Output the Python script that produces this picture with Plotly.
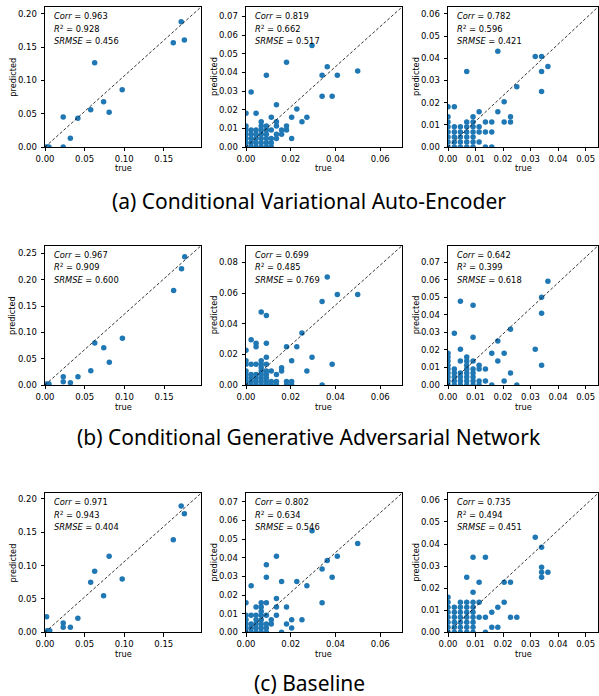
import plotly.graph_objects as go

# ---------------- data (true vs predicted) ----------------
# Row (a): Conditional Variational Auto-Encoder
a1_true = [0.002, 0.005, 0.023, 0.023, 0.032, 0.0415, 0.0577, 0.0627, 0.074, 0.081, 0.0975, 0.162, 0.172, 0.176]
a1_pred = [0.0, 0.0, 0.045, 0.0, 0.013, 0.043, 0.056, 0.1265, 0.068, 0.052, 0.086, 0.1565, 0.188, 0.1605]

a2_true = [0, 0, 0, 0, 0, 0, 0,
           0.0023, 0.0023, 0.0023, 0.0023, 0.0023, 0.0023,
           0.0045, 0.0045, 0.0045, 0.0045, 0.0045, 0.0045,
           0.0068, 0.0068, 0.0068, 0.0068, 0.0068, 0.0068, 0.0068,
           0.0091, 0.0091, 0.0091, 0.0091, 0.0091, 0.0091, 0.0091,
           0.0113, 0.0113, 0.0113, 0.0113, 0.0113,
           0.0136, 0.0136, 0.0136, 0.0136, 0.0136,
           0.0159, 0.0159,
           0.0181, 0.0181, 0.0181,
           0.0204, 0.0204,
           0.0227, 0.025, 0.0272, 0.0295, 0.034, 0.034, 0.0363, 0.0385, 0.0408, 0.0499]
a2_pred = [0, 0.0023, 0.0045, 0.0068, 0.0091, 0.0113, 0.0181,
           0, 0.0023, 0.0045, 0.0068, 0.0091, 0.0295,
           0, 0.0023, 0.0045, 0.0068, 0.0091, 0.0181,
           0, 0.0023, 0.0045, 0.0068, 0.0091, 0.0113, 0.0136,
           0, 0.0023, 0.0045, 0.0068, 0.0091, 0.0113, 0.0385,
           0, 0.0023, 0.0045, 0.0091, 0.0159,
           0.0045, 0.0068, 0.0113, 0.0136, 0.0227,
           0.0068, 0.0091,
           0.0091, 0.0113, 0.0454,
           0.0045, 0.0159,
           0.0204, 0.0136, 0.0159, 0.0545, 0.0385, 0.0272, 0.0431, 0.0272, 0.0385, 0.0408]

a3_true = [0, 0, 0, 0, 0, 0, 0, 0,
           0.0023, 0.0023, 0.0023, 0.0023, 0.0023, 0.0023,
           0.0045, 0.0045, 0.0045, 0.0045, 0.0045,
           0.0068, 0.0068, 0.0068, 0.0068, 0.0068, 0.0068, 0.0068,
           0.0091, 0.0091, 0.0091, 0.0091, 0.0091, 0.0091, 0.0091,
           0.0113, 0.0113, 0.0113, 0.0113,
           0.0136, 0.0136, 0.0136,
           0.0159, 0.0159, 0.0159,
           0.0181, 0.0181,
           0.0204, 0.0204,
           0.0227, 0.0227,
           0.025, 0.0317, 0.034, 0.034, 0.034, 0.0363]
a3_pred = [0, 0.0023, 0.0045, 0.0068, 0.0091, 0.0113, 0.0136, 0.0181,
           0, 0.0023, 0.0045, 0.0068, 0.0091, 0.0181,
           0, 0.0023, 0.0045, 0.0068, 0.0091,
           0, 0.0023, 0.0045, 0.0068, 0.0091, 0.0113, 0.034,
           0, 0.0023, 0.0045, 0.0068, 0.0091, 0.0113, 0.0136,
           0.0023, 0.0068, 0.0091, 0.0159,
           0, 0.0068, 0.0113,
           0, 0.0068, 0.0113,
           0.0159, 0.0431,
           0.0113, 0.0204,
           0.0113, 0.0136,
           0.0272, 0.0408, 0.0408, 0.034, 0.025, 0.0363]

# Row (b): Conditional Generative Adversarial Network
b1_true = [0.002, 0.005, 0.023, 0.023, 0.032, 0.0415, 0.0577, 0.0627, 0.074, 0.081, 0.0975, 0.162, 0.172, 0.176]
b1_pred = [0.002, 0.002, 0.0158, 0.0063, 0.0044, 0.0158, 0.0272, 0.0797, 0.0709, 0.043, 0.0886, 0.1797, 0.221, 0.2437]

b2_true = [0, 0, 0, 0, 0, 0, 0, 0,
           0.0023, 0.0023, 0.0023, 0.0023, 0.0023, 0.0023,
           0.0045, 0.0045, 0.0045, 0.0045, 0.0045, 0.0045, 0.0045,
           0.0068, 0.0068, 0.0068, 0.0068, 0.0068, 0.0068, 0.0068, 0.0068, 0.0068,
           0.0091, 0.0091, 0.0091, 0.0091, 0.0091, 0.0091, 0.0091, 0.0091, 0.0091,
           0.0113, 0.0113, 0.0113,
           0.0136, 0.0136, 0.0136,
           0.0159, 0.0159,
           0.0181, 0.0181, 0.0181,
           0.0204, 0.0204, 0.0204,
           0.0227, 0.025, 0.0272, 0.0295, 0.034, 0.034, 0.0363, 0.0385, 0.0408, 0.0499]
b2_pred = [0, 0.0023, 0.0045, 0.0068, 0.0091, 0.0136, 0.0159, 0.0227,
           0, 0.0023, 0.0045, 0.0068, 0.0136, 0.0295,
           0, 0.0023, 0.0045, 0.0068, 0.0136, 0.025, 0.0272,
           0, 0.0023, 0.0045, 0.0068, 0.0091, 0.0113, 0.0136, 0.0159, 0.0477,
           0, 0.0023, 0.0045, 0.0068, 0.0091, 0.0136, 0.0181, 0.0272, 0.0454,
           0, 0.0023, 0.0091,
           0, 0.0023, 0.0068,
           0.0091, 0.0113,
           0, 0.0023, 0.025,
           0, 0.0023, 0.0159,
           0.025, 0.034, 0.0091, 0.0181, 0.0545, 0, 0.0704, 0.0136, 0.059, 0.059]

b3_true = [0, 0, 0, 0, 0, 0, 0, 0, 0,
           0.0023, 0.0023, 0.0023, 0.0023, 0.0023, 0.0023,
           0.0045, 0.0045, 0.0045, 0.0045, 0.0045, 0.0045, 0.0045,
           0.0068, 0.0068, 0.0068, 0.0068, 0.0068, 0.0068, 0.0068, 0.0068,
           0.0091, 0.0091, 0.0091, 0.0091, 0.0091, 0.0091, 0.0091, 0.0091,
           0.0113, 0.0113, 0.0113, 0.0113,
           0.0136, 0.0136,
           0.0159, 0.0159,
           0.0181, 0.0181,
           0.0204, 0.0204,
           0.0227, 0.0227,
           0.025, 0.0317, 0.034, 0.034, 0.034, 0.0363]
b3_pred = [0, 0.0023, 0.0045, 0.0068, 0.0091, 0.0113, 0.0136, 0.0159, 0.0181,
           0, 0.0023, 0.0045, 0.0068, 0.0091, 0.0295,
           0, 0.0023, 0.0045, 0.0068, 0.0136, 0.0204, 0.0477,
           0, 0.0023, 0.0045, 0.0068, 0.0091, 0.0113, 0.0136, 0.0159,
           0, 0.0023, 0.0045, 0.0068, 0.0091, 0.0136, 0.0272, 0.0454,
           0, 0.0023, 0.0091, 0.0113,
           0.0023, 0.0091,
           0, 0.0181,
           0.0136, 0.025,
           0.0023, 0.0181,
           0.0068, 0.0318,
           0, 0.0204, 0.0499, 0.0408, 0.0113, 0.059]

# Row (c): Baseline
c1_true = [0.002, 0.003, 0.006, 0.023, 0.023, 0.032, 0.0415, 0.0577, 0.0627, 0.074, 0.081, 0.0975, 0.162, 0.172, 0.176]
c1_pred = [0.0235, 0.0025, 0.0025, 0.014, 0.0075, 0.0075, 0.021, 0.075, 0.0915, 0.055, 0.114, 0.080, 0.139, 0.1895, 0.178]

c2_true = [0, 0, 0, 0, 0, 0,
           0.0023, 0.0023, 0.0023, 0.0023, 0.0023,
           0.0045, 0.0045, 0.0045, 0.0045, 0.0045, 0.0045,
           0.0068, 0.0068, 0.0068, 0.0068, 0.0068, 0.0068, 0.0068, 0.0068,
           0.0091, 0.0091, 0.0091, 0.0091, 0.0091, 0.0091, 0.0091,
           0.0113, 0.0113,
           0.0136, 0.0136, 0.0136, 0.0136,
           0.0159, 0.0159,
           0.0181, 0.0181,
           0.0204, 0.0204,
           0.0227, 0.025, 0.0272, 0.0295, 0.034, 0.034, 0.0363, 0.0385, 0.0408, 0.0499]
c2_pred = [0, 0.0023, 0.0045, 0.0068, 0.0091, 0.0159,
           0, 0.0023, 0.0045, 0.0091, 0.025,
           0, 0.0023, 0.0045, 0.0068, 0.0091, 0.0136,
           0, 0.0023, 0.0045, 0.0068, 0.0091, 0.0113, 0.0136, 0.0159,
           0, 0.0023, 0.0045, 0.0091, 0.0159, 0.0295, 0.0363,
           0.0045, 0.0068,
           0.0091, 0.0136, 0.0181, 0.0408,
           0, 0.0272,
           0.0045, 0.0136,
           0.0023, 0.0068,
           0.0272, 0.0068, 0.025, 0.0545, 0.034, 0.0159, 0.0385, 0.0295, 0.0408, 0.0477]

c3_true = [0, 0, 0, 0, 0, 0, 0, 0,
           0.0023, 0.0023, 0.0023, 0.0023, 0.0023, 0.0023,
           0.0045, 0.0045, 0.0045, 0.0045, 0.0045, 0.0045, 0.0045,
           0.0068, 0.0068, 0.0068, 0.0068, 0.0068, 0.0068, 0.0068, 0.0068,
           0.0091, 0.0091, 0.0091, 0.0091, 0.0091, 0.0091, 0.0091, 0.0091, 0.0091,
           0.0113, 0.0113, 0.0113,
           0.0136, 0.0136, 0.0136,
           0.0159, 0.0159,
           0.0181, 0.0181,
           0.0204, 0.0204,
           0.0227, 0.0227,
           0.025, 0.0317, 0.034, 0.034, 0.034, 0.034, 0.0363]
c3_pred = [0, 0.0023, 0.0045, 0.0068, 0.0091, 0.0113, 0.0136, 0.0159,
           0, 0.0023, 0.0045, 0.0068, 0.0091, 0.0113,
           0, 0.0023, 0.0045, 0.0068, 0.0091, 0.0113, 0.0136,
           0, 0.0023, 0.0045, 0.0068, 0.0091, 0.0113, 0.0136, 0.025,
           0, 0.0023, 0.0045, 0.0068, 0.0091, 0.0113, 0.0136, 0.0181, 0.034,
           0.0068, 0.0136, 0.0227,
           0, 0.0068, 0.034,
           0.0023, 0.0091,
           0.0023, 0.0113,
           0.0136, 0.0227,
           0.0068, 0.0227,
           0.0068, 0.0431, 0.0385, 0.0295, 0.0272, 0.025, 0.0272]

corr_vals = ["0.963", "0.819", "0.782", "0.967", "0.699", "0.642", "0.971", "0.802", "0.735"]
r2_vals = ["0.928", "0.662", "0.596", "0.909", "0.485", "0.399", "0.943", "0.634", "0.494"]
srmse_vals = ["0.456", "0.517", "0.421", "0.600", "0.769", "0.618", "0.404", "0.546", "0.451"]

captions = ["(a) Conditional Variational Auto-Encoder",
            "(b) Conditional Generative Adversarial Network",
            "(c) Baseline"]

panel_data = [(a1_true, a1_pred), (a2_true, a2_pred), (a3_true, a3_pred),
              (b1_true, b1_pred), (b2_true, b2_pred), (b3_true, b3_pred),
              (c1_true, c1_pred), (c2_true, c2_pred), (c3_true, c3_pred)]

# axis limits and tick steps per panel (x_max, y_max, x_dtick, y_dtick)
axis_cfg = [(0.197, 0.21, 0.05, 0.05), (0.0697, 0.0751, 0.02, 0.01), (0.0545, 0.0631, 0.01, 0.01),
            (0.1965, 0.2646, 0.05, 0.05), (0.0697, 0.0909, 0.02, 0.02), (0.0545, 0.0793, 0.01, 0.01),
            (0.197, 0.2085, 0.05, 0.05), (0.0697, 0.0746, 0.02, 0.01), (0.0545, 0.063, 0.01, 0.01)]

# ---------------- layout geometry (pixels) ----------------
W, H = 599, 696
col_left = [45, 246, 448]
col_right = [201, 402, 598]
row_top = [7, 245.7, 493.3]
row_bottom = [147, 385, 632.3]
ylabel_x = [12.7, 214, 416]
xlabel_y = [168, 406.5, 653.5]
caption_y = [200.7, 437, 683]

BLUE = "#1f77b4"
tick_font = dict(family="DejaVu Sans", size=8.5, color="black")

fig = go.Figure()
layout = dict(width=W, height=H, margin=dict(l=0, r=0, t=0, b=0, autoexpand=False),
              paper_bgcolor="white", plot_bgcolor="white", showlegend=False)
annotations = []
shapes = []

for i, (xt, yp) in enumerate(panel_data):
    r, c = divmod(i, 3)
    n = i + 1
    xa = "xaxis" if n == 1 else f"xaxis{n}"
    ya = "yaxis" if n == 1 else f"yaxis{n}"
    xref = "x" if n == 1 else f"x{n}"
    yref = "y" if n == 1 else f"y{n}"
    xmax, ymax, xdt, ydt = axis_cfg[i]
    dom_x = [col_left[c] / W, col_right[c] / W]
    dom_y = [1 - row_bottom[r] / H, 1 - row_top[r] / H]
    common = dict(showline=True, linecolor="black", linewidth=0.9, mirror=True,
                  ticks="outside", ticklen=3.5, tickwidth=0.8, tickcolor="black",
                  showgrid=False, zeroline=False, tickfont=tick_font, tickformat=".2f",
                  tick0=0, fixedrange=True, automargin=False)
    layout[xa] = dict(domain=dom_x, range=[0, xmax], dtick=xdt, anchor=yref, **common)
    layout[ya] = dict(domain=dom_y, range=[0, ymax], dtick=ydt, anchor=xref,
                      ticklabelstandoff=2, **common)

    fig.add_trace(go.Scatter(x=xt, y=yp, mode="markers", xaxis=xref, yaxis=yref,
                             marker=dict(size=5.5, color=BLUE, line=dict(width=0)),
                             cliponaxis=True, hoverinfo="skip"))

    shapes.append(dict(type="line", xref=f"{xref} domain", yref=f"{yref} domain",
                       x0=0, y0=0, x1=1, y1=1, layer="above",
                       line=dict(color="black", width=0.8, dash="3px,2px")))

    stats = [f"<i>Corr</i> = {corr_vals[i]}",
             f"<i>R</i><sup>2</sup> = {r2_vals[i]}",
             f"<i>SRMSE</i> = {srmse_vals[i]}"]
    for k, txt in enumerate(stats):
        annotations.append(dict(text=txt, xref=f"{xref} domain", yref=f"{yref} domain",
                                x=0.048, y=1 - (9 + 12.6 * k) / 140, xanchor="left", yanchor="middle",
                                showarrow=False,
                                font=dict(family="DejaVu Sans", size=8.3, color="black")))

    # axis labels
    annotations.append(dict(text="predicted", xref="paper", yref="paper",
                            x=ylabel_x[c] / W, y=1 - (row_top[r] + row_bottom[r]) / 2 / H,
                            xanchor="center", yanchor="middle", textangle=-90, showarrow=False,
                            font=dict(family="DejaVu Sans", size=8.2, color="black")))
    annotations.append(dict(text="true", xref="paper", yref="paper",
                            x=(col_left[c] + col_right[c]) / 2 / W, y=1 - xlabel_y[r] / H,
                            xanchor="center", yanchor="middle", showarrow=False,
                            font=dict(family="DejaVu Sans", size=8.2, color="black")))

for r, cap in enumerate(captions):
    annotations.append(dict(text=cap, xref="paper", yref="paper",
                            x=309 / W, y=1 - caption_y[r] / H,
                            xanchor="center", yanchor="middle", showarrow=False,
                            font=dict(family="Noto Sans", size=21, color="black")))

layout["annotations"] = annotations
layout["shapes"] = shapes
fig.update_layout(**layout)
fig.write_html("out.html", config={"displayModeBar": False},
               post_script="document.body.style.margin='0';document.body.style.padding='0';"
                           "document.documentElement.style.overflow='hidden';")
